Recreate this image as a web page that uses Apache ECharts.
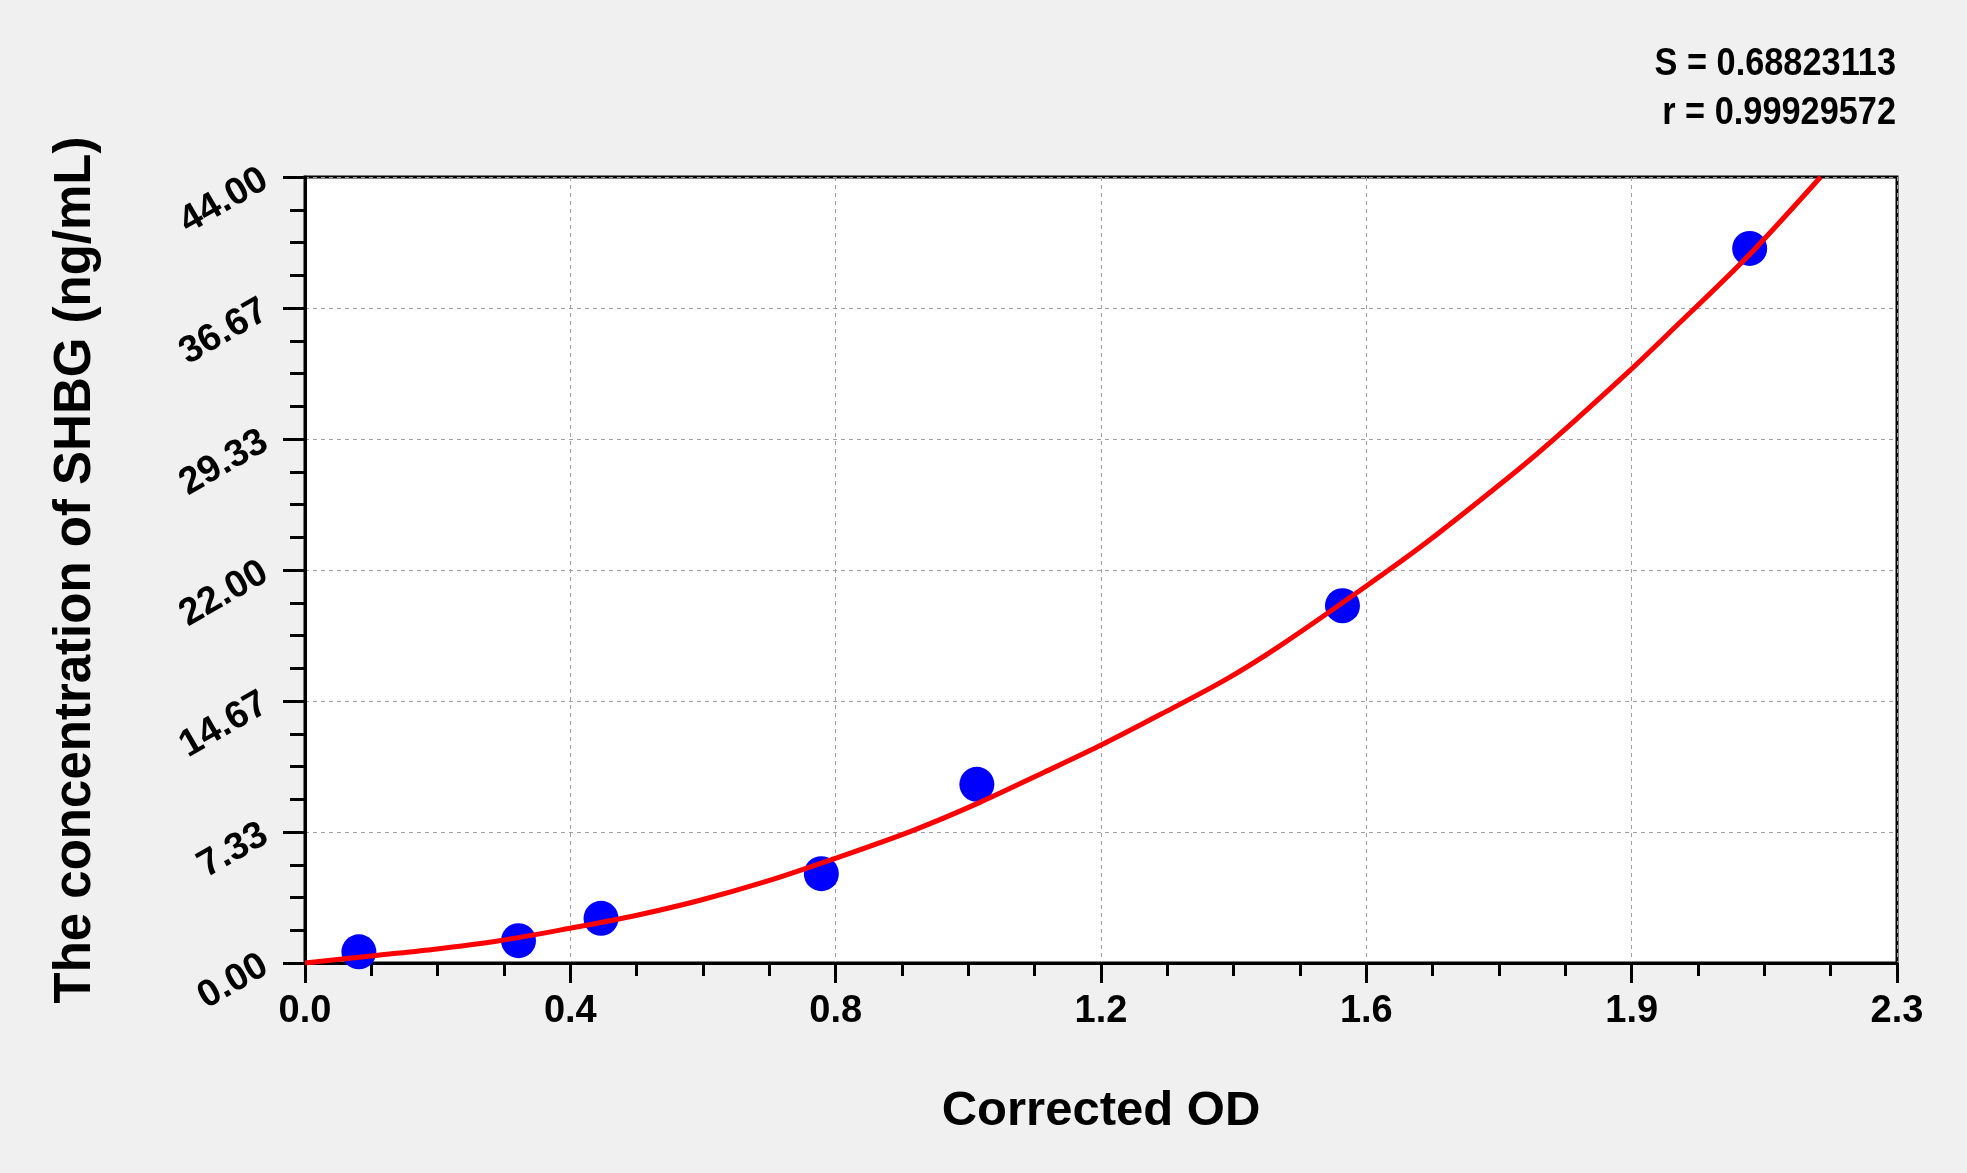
<!DOCTYPE html>
<html>
<head>
<meta charset="utf-8">
<script src="https://cdn.jsdelivr.net/npm/echarts@6/dist/echarts.min.js"></script>
<style>
html,body{margin:0;padding:0;background:#f0f0f0;}
#chart{width:1967px;height:1173px;}
</style>
</head>
<body>
<div id="chart"></div>
<script>
// Standard points (Corrected OD, concentration)
var pointOD = [0.079, 0.313, 0.434, 0.757, 0.985, 1.521, 2.118];
var pointConc = [0.625, 1.25, 2.5, 5, 10, 20, 40];

// Fitted curve
var curveOD = [0, 0.09, 0.187, 0.285, 0.382, 0.48, 0.578, 0.675, 0.773, 0.89, 0.987, 1.085, 1.162, 1.256, 1.349, 1.427, 1.554, 1.641, 1.778, 1.832, 1.939, 1.998, 2.115, 2.222];
var curveConc = [0, 0.37, 0.76, 1.25, 1.90, 2.62, 3.50, 4.55, 5.80, 7.40, 8.95, 10.70, 12.10, 13.95, 15.85, 17.70, 21.05, 23.45, 27.60, 29.35, 33.05, 35.20, 39.55, 44.0];

// Tick labels
var xTickLabels = ['0.0', '0.4', '0.8', '1.2', '1.6', '1.9', '2.3'];
var yTickLabels = ['0.00', '7.33', '14.67', '22.00', '29.33', '36.67', '44.00'];

var statLines = ['S = 0.68823113', 'r = 0.99929572'];

var xMax = 2.334, xInterval = 0.389;
var yMax = 44, yInterval = 44 / 6;

var font = "'Liberation Sans', Arial, sans-serif";

var chart = echarts.init(document.getElementById('chart'));

function zip(a, b) { return a.map(function (v, i) { return [v, b[i]]; }); }

chart.setOption({
  backgroundColor: '#f0f0f0',
  animation: false,
  grid: {
    left: 305, right: 70, top: 177, bottom: 210,
    show: true, backgroundColor: '#ffffff', borderColor: '#000', borderWidth: 3
  },
  xAxis: {
    type: 'value', min: 0, max: xMax, interval: xInterval,
    name: 'Corrected OD', nameLocation: 'middle', nameGap: 124,
    nameTextStyle: { fontFamily: font, fontWeight: 'bold', fontSize: 49, color: '#000' },
    axisLine: { show: true, lineStyle: { color: '#000', width: 3 } },
    axisTick: { show: true, length: 20, lineStyle: { color: '#000', width: 3 } },
    minorTick: { show: true, splitNumber: 4, length: 13, lineStyle: { color: '#000', width: 3 } },
    splitLine: { show: true, lineStyle: { color: '#a0a0a0', width: 1, type: [4, 4] } },
    axisLabel: {
      margin: 30, fontFamily: font, fontWeight: 'bold', fontSize: 38, color: '#000',
      formatter: function (v) { return xTickLabels[Math.round(v / xInterval)]; }
    }
  },
  yAxis: {
    type: 'value', min: 0, max: yMax, interval: yInterval,
    name: 'The concentration of SHBG (ng/mL)', nameLocation: 'middle', nameGap: 204,
    nameTextStyle: { fontFamily: font, fontWeight: 'bold', fontSize: 51, color: '#000' },
    axisLine: { show: true, lineStyle: { color: '#000', width: 3 } },
    axisTick: { show: true, length: 22, lineStyle: { color: '#000', width: 3 } },
    minorTick: { show: true, splitNumber: 4, length: 15, lineStyle: { color: '#000', width: 3 } },
    splitLine: { show: true, lineStyle: { color: '#a0a0a0', width: 1, type: [4, 4] } },
    axisLabel: {
      margin: 40, rotate: 30, fontFamily: font, fontWeight: 'bold', fontSize: 38, color: '#000',
      formatter: function (v) { return yTickLabels[Math.round(v / yInterval)]; }
    }
  },
  graphic: [
    { type: 'text', x: 1896, y: 64, scaleX: 0.88,
      style: { text: statLines[0], font: 'bold 39px ' + font, fill: '#000', textAlign: 'right', textVerticalAlign: 'middle' } },
    { type: 'text', x: 1896, y: 113, scaleX: 0.88,
      style: { text: statLines[1], font: 'bold 39px ' + font, fill: '#000', textAlign: 'right', textVerticalAlign: 'middle' } }
  ],
  series: [
    {
      type: 'scatter', data: zip(pointOD, pointConc), symbolSize: 35, z: 2,
      itemStyle: { color: '#0000ff', opacity: 1 }
    },
    {
      type: 'line', data: zip(curveOD, curveConc), showSymbol: false, smooth: 0.3, z: 3,
      lineStyle: { color: '#ff0000', width: 5 }
    }
  ]
});
</script>
</body>
</html>
